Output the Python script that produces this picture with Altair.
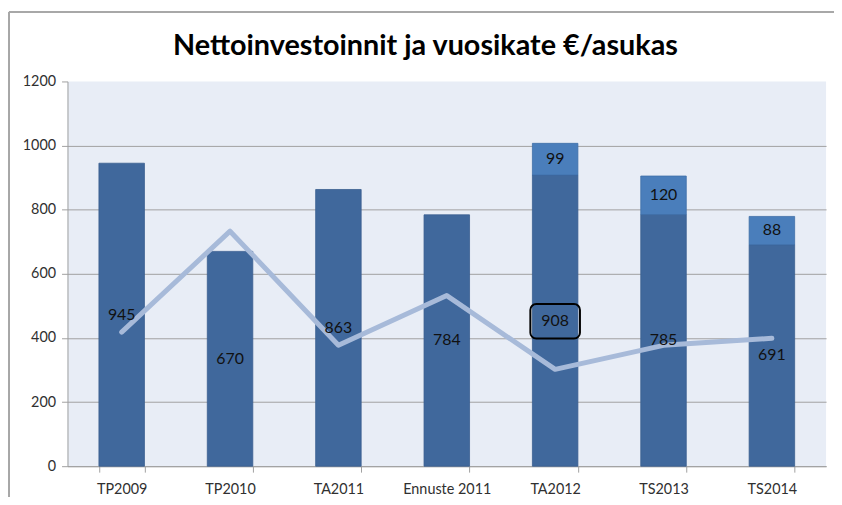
import altair as alt
import pandas as pd

categories = ["TP2009", "TP2010", "TA2011", "Ennuste 2011", "TA2012", "TS2013", "TS2014"]
investments = [945, 670, 863, 784, 908, 785, 691]
extra = [0, 0, 0, 0, 99, 120, 88]
vuosikate = [418, 733, 377, 532, 302, 377, 399]
highlight = [False, False, False, False, True, False, False]
y_ticks = [0, 200, 400, 600, 800, 1000, 1200]
title_text = "Nettoinvestoinnit ja vuosikate €/asukas"

df = pd.DataFrame({
    "cat": categories,
    "inv": investments,
    "extra": extra,
    "vk": vuosikate,
    "hl": highlight,
})

FONT = "Lato"
xenc = alt.X("cat:N", sort=categories, title=None,
             scale=alt.Scale(paddingInner=0.58, paddingOuter=0.29),
             axis=alt.Axis(labelAngle=0, labelFont=FONT, labelFontSize=14.5, labelColor="#303030",
                           domainColor="#A0A0A0", tickColor="#A0A0A0", tickSize=6,
                           tickBand="extent", labelPadding=11, grid=False))

base = alt.Chart(df)

bars = base.mark_bar(color="#40689C", stroke="#3A5F90", strokeWidth=0.8).encode(
    x=xenc,
    y=alt.Y("inv:Q", title=None,
            scale=alt.Scale(domain=[0, 1200], nice=False),
            axis=alt.Axis(values=y_ticks, format="d", labelFont=FONT, labelFontSize=14.5,
                          labelColor="#303030",
                          domainColor="#A0A0A0", tickColor="#A0A0A0", tickSize=6, labelPadding=6,
                          gridColor="#A0A0A0",
                          gridOpacity=alt.condition("datum.value == 1200", alt.value(0), alt.value(1)))),
    y2=alt.datum(0),
)

top = base.transform_filter("datum.extra > 0").transform_calculate(
    tot="datum.inv + datum.extra"
).mark_bar(color="#4A7EBB", stroke="#3F6FA8", strokeWidth=0.8).encode(
    x=alt.X("cat:N", sort=categories),
    y="inv:Q",
    y2="tot:Q",
)

line = base.mark_line(color="#A7BAD9", strokeWidth=5, strokeCap="round", strokeJoin="round").encode(
    x=alt.X("cat:N", sort=categories),
    y="vk:Q",
)

lab_base = base.transform_calculate(mid="datum.inv / 2").mark_text(
    font=FONT, fontSize=16, color="#111111"
).encode(
    x=alt.X("cat:N", sort=categories),
    y="mid:Q",
    text="inv:Q",
)

lab_top = base.transform_filter("datum.extra > 0").transform_calculate(
    mid="datum.inv + datum.extra / 2"
).mark_text(font=FONT, fontSize=16, color="#111111").encode(
    x=alt.X("cat:N", sort=categories),
    y="mid:Q",
    text="extra:Q",
)

box = base.transform_filter("datum.hl").transform_calculate(
    b0="datum.inv / 2 - 56", b1="datum.inv / 2 + 52"
).mark_bar(width=50, cornerRadius=6, fill=None, fillOpacity=0, stroke="black", strokeWidth=2).encode(
    x=alt.X("cat:N", sort=categories),
    y="b0:Q",
    y2="b1:Q",
)

title = alt.Chart(pd.DataFrame({"t": [title_text]})).mark_text(
    font=FONT, fontSize=29, fontWeight="bold", color="#000000",
    align="center", baseline="middle", clip=False
).encode(x=alt.value(361), y=alt.value(-36), text="t:N")

border_top = alt.Chart(df).mark_rule(color="#A8A8A8", strokeWidth=2, clip=False).encode(
    x=alt.value(-59), x2=alt.value(780), y=alt.value(-70), y2=alt.value(-70)
)
border_left = alt.Chart(df).mark_rule(color="#A8A8A8", strokeWidth=2, clip=False).encode(
    x=alt.value(-59), x2=alt.value(-59), y=alt.value(-70), y2=alt.value(430)
)

chart = alt.layer(bars, top, line, lab_base, lab_top, box, title, border_top, border_left).properties(
    width=765,
    height=388,
    padding={"left": 60, "top": 72, "right": 8, "bottom": 29},
    autosize=alt.AutoSizeParams(type="none"),
    background="white",
).configure_view(fill="#E8EDF6", strokeWidth=0)

chart.save("out.html", embed_options={"renderer": "svg", "actions": False})
